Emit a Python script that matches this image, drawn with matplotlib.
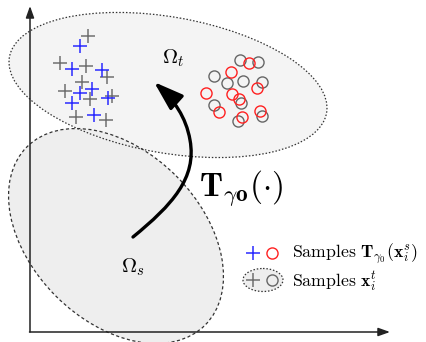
import matplotlib
matplotlib.use("Agg")
import matplotlib.pyplot as plt
from matplotlib.patches import Ellipse, FancyArrowPatch
from matplotlib.path import Path

plt.rcParams['mathtext.fontset'] = 'cm'

# 점 좌표 (이미지 픽셀 기준, y 아래로 증가)
cross_gray_x = [87.7, 60, 85.7, 106.7, 81.7, 65, 90, 111.7, 76, 106]
cross_gray_y = [35.7, 63, 65.7, 76.7, 81.7, 90.7, 99, 96, 117, 120]
cross_blue_x = [80, 71.7, 101.7, 80, 91.7, 72.3, 108.3, 94]
cross_blue_y = [46, 69.3, 70, 93.3, 89.3, 102.7, 97.7, 115]
circ_gray_x = [240, 258.3, 214.3, 227.3, 242.7, 261.7, 241, 214, 262.3, 238.3]
circ_gray_y = [60, 62.3, 75.7, 82.7, 80.7, 81.7, 103.3, 105, 116, 120.7]
circ_red_x = [249, 231, 256.7, 205.7, 231.7, 239, 219, 260, 241.7]
circ_red_y = [63.3, 72.3, 87.7, 92.7, 94.3, 99.3, 112.3, 111, 117.3]

fig = plt.figure(figsize=(4.27, 3.42), dpi=100)
ax = fig.add_axes([0, 0, 1, 1])
ax.set_xlim(0, 427)
ax.set_ylim(342, 0)
ax.axis('off')

# 영역(타원)
up = Ellipse((168, 85), 322, 136, angle=10, facecolor='#f4f4f4', edgecolor='none', zorder=1)
low = Ellipse((116, 236), 252, 170, angle=45, facecolor='#eeeeee', edgecolor='none', zorder=1)
ax.add_patch(up)
ax.add_patch(low)
ax.add_patch(Ellipse((168, 85), 322, 136, angle=10, facecolor='none', edgecolor='#333333',
                     lw=0.9, linestyle=(0, (1.2, 1.5)), zorder=2))
ax.add_patch(Ellipse((116, 236), 252, 170, angle=45, facecolor='none', edgecolor='#333333',
                     lw=0.9, linestyle=(0, (2.5, 2)), zorder=2))

# 좌표축
ax.annotate('', xy=(30, 6), xytext=(30, 332),
            arrowprops=dict(arrowstyle='-|>,head_length=0.7,head_width=0.25', color='#222222', lw=1.1,
                            shrinkA=0, shrinkB=0), zorder=3)
ax.annotate('', xy=(390, 332), xytext=(29.5, 332),
            arrowprops=dict(arrowstyle='-|>,head_length=0.7,head_width=0.25', color='#222222', lw=1.1,
                            shrinkA=0, shrinkB=0), zorder=3)

# 샘플
ax.plot(cross_gray_x, cross_gray_y, '+', color='#707070', ms=10, mew=1.1, zorder=4)
ax.plot(cross_blue_x, cross_blue_y, '+', color='#2a2aff', ms=10, mew=1.1, zorder=5)
ax.plot(circ_gray_x, circ_gray_y, 'o', mfc='none', mec='#666666', ms=8, mew=1.0, zorder=4)
ax.plot(circ_red_x, circ_red_y, 'o', mfc='none', mec='#ff2020', ms=8, mew=1.0, zorder=5)

# 변환 화살표
verts = [(133, 237), (172, 205), (197, 178), (190, 140), (186, 117), (174, 100), (154, 82)]
codes = [Path.MOVETO, Path.CURVE4, Path.CURVE4, Path.CURVE4, Path.CURVE4, Path.CURVE4, Path.CURVE4]
arr = FancyArrowPatch(path=Path(verts, codes), arrowstyle='-|>,head_length=1.5,head_width=0.5',
                      mutation_scale=12, color='black', lw=2.4, zorder=6)
ax.add_patch(arr)

ax.text(173, 58, r'$\Omega_t$', fontsize=15, ha='center', va='center', zorder=7)
ax.text(133, 267, r'$\Omega_s$', fontsize=15, ha='center', va='center', zorder=7)
ax.text(199, 189, r'$\mathbf{T}_{\gamma\mathbf{o}}(\cdot)$', fontsize=24, ha='left', va='center', zorder=7)

# 범례
ax.plot([253], [253], '+', color='#2a2aff', ms=10, mew=1.1)
ax.plot([272], [253], 'o', mfc='none', mec='#ff2020', ms=8, mew=1.0)
ax.text(292, 254, r'$\mathrm{Samples}\ \mathbf{T}_{\gamma_0}(\mathbf{x}_i^s)$', fontsize=12.8, ha='left', va='center')
ax.add_patch(Ellipse((263, 280), 40, 23, facecolor='#eeeeee', edgecolor='#333333',
                     lw=0.9, linestyle=(0, (1.2, 1.5))))
ax.plot([253], [280], '+', color='#707070', ms=10, mew=1.1)
ax.plot([272], [280], 'o', mfc='none', mec='#666666', ms=8, mew=1.0)
ax.text(292, 281, r'$\mathrm{Samples}\ \mathbf{x}_i^t$', fontsize=12.8, ha='left', va='center')

fig.savefig('out.png', dpi=100)
